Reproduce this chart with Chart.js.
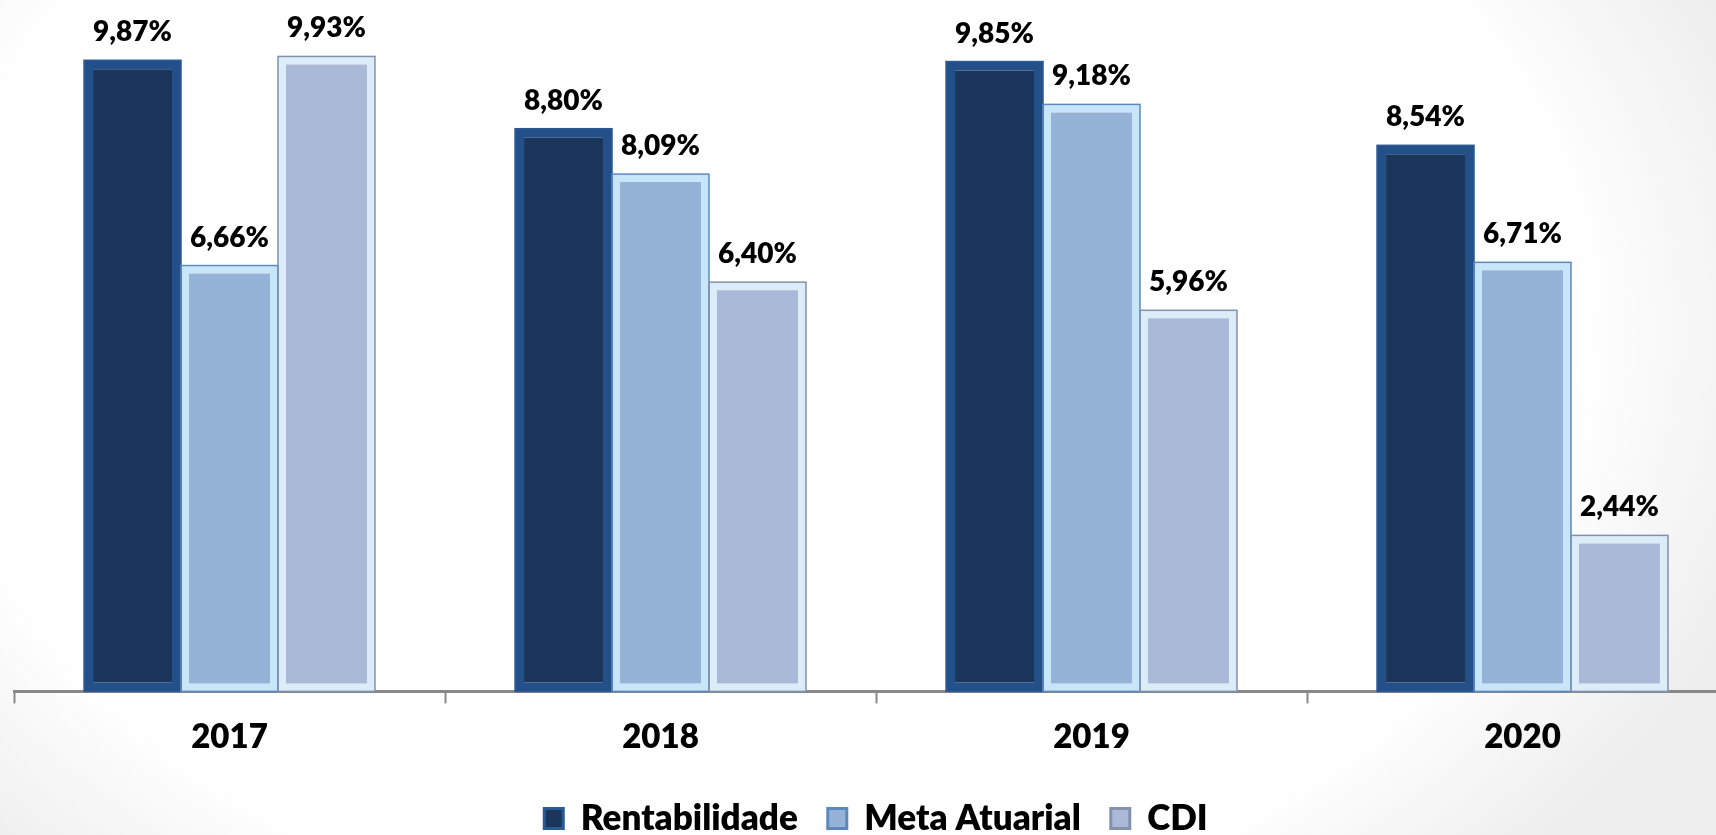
<!DOCTYPE html>
<html lang="pt">
<head>
  <meta charset="UTF-8">
  <title>Rentabilidade x Meta Atuarial x CDI</title>
  <script src="https://cdn.jsdelivr.net/npm/chart.js"></script>
  <style>
    html, body { margin: 0; padding: 0; overflow: hidden; }
    body {
      width: 1716px; height: 835px;
      background: radial-gradient(ellipse 1050px 760px at 760px 330px, #ffffff 78%, #eeeeee 100%);
    }
    #wrap { width: 1760px; height: 835px; }
  </style>
</head>
<body>
  <div id="wrap"><canvas id="myChart"></canvas></div>
  <script>
    const years = ['2017', '2018', '2019', '2020'];
    const rentabilidade = [9.87, 8.80, 9.85, 8.54];
    const metaAtuarial = [6.66, 8.09, 9.18, 6.71];
    const cdi = [9.93, 6.40, 5.96, 2.44];

    const FONT = "Lato, Carlito, 'Open Sans', sans-serif";
    const WEIGHT = 800;
    const outlines = ['#2a5a96', '#5d88bd', '#8391ad'];

    // values above bars + thin outer line around each bar
    const barExtras = {
      id: 'barExtras',
      afterDatasetsDraw(chart) {
        const ctx = chart.ctx;
        ctx.save();
        chart.data.datasets.forEach((ds, i) => {
          const meta = chart.getDatasetMeta(i);
          meta.data.forEach((bar, j) => {
            const p = bar.getProps(['x', 'y', 'base', 'width'], true);
            ctx.strokeStyle = outlines[i];
            ctx.lineWidth = 1.5;
            ctx.strokeRect(p.x - p.width / 2, p.y, p.width, p.base - p.y);
            ctx.fillStyle = '#000';
            ctx.font = WEIGHT + ' 28px ' + FONT;
            ctx.textAlign = 'center';
            ctx.textBaseline = 'alphabetic';
            const txt = ds.data[j].toFixed(2).replace('.', ',') + '%';
            ctx.fillText(txt, p.x, p.y - 19);
          });
        });
        ctx.restore();
      }
    };

    const ctx = document.getElementById('myChart').getContext('2d');
    const myChart = new Chart(ctx, {
      type: 'bar',
      data: {
        labels: years,
        datasets: [
          {
            label: 'Rentabilidade',
            data: rentabilidade,
            backgroundColor: '#1b365d',
            borderColor: '#24508a',
            borderWidth: 9,
            borderSkipped: false
          },
          {
            label: 'Meta Atuarial',
            data: metaAtuarial,
            backgroundColor: '#95b3d7',
            borderColor: '#c8e6fa',
            borderWidth: 8,
            borderSkipped: false
          },
          {
            label: 'CDI',
            data: cdi,
            backgroundColor: '#aab9d7',
            borderColor: '#ddecf9',
            borderWidth: 8,
            borderSkipped: false
          }
        ]
      },
      options: {
        responsive: true,
        maintainAspectRatio: false,
        animation: false,
        layout: { padding: { top: 20, left: 14, right: 22, bottom: -11 } },
        datasets: {
          bar: { categoryPercentage: 0.675, barPercentage: 1.0 }
        },
        scales: {
          x: {
            z: 1,
            grid: {
              offset: true,
              drawOnChartArea: false,
              drawTicks: true,
              tickLength: 12,
              tickColor: '#888888',
              tickWidth: 2
            },
            border: { color: '#888888', width: 3 },
            ticks: {
              color: '#000',
              padding: 14,
              font: { family: FONT, size: 33, weight: WEIGHT }
            }
          },
          y: {
            display: false,
            min: 0,
            max: 10.5
          }
        },
        plugins: {
          tooltip: { enabled: false },
          legend: {
            position: 'bottom',
            labels: {
              color: '#000',
              boxWidth: 19,
              boxHeight: 20,
              padding: 30,
              font: { family: FONT, size: 35, weight: WEIGHT },
              generateLabels(chart) {
                return Chart.defaults.plugins.legend.labels.generateLabels(chart).map((l, i) => {
                  l.lineWidth = 3;
                  l.strokeStyle = outlines[i];
                  return l;
                });
              }
            }
          }
        }
      },
      plugins: [barExtras]
    });
  </script>
</body>
</html>
